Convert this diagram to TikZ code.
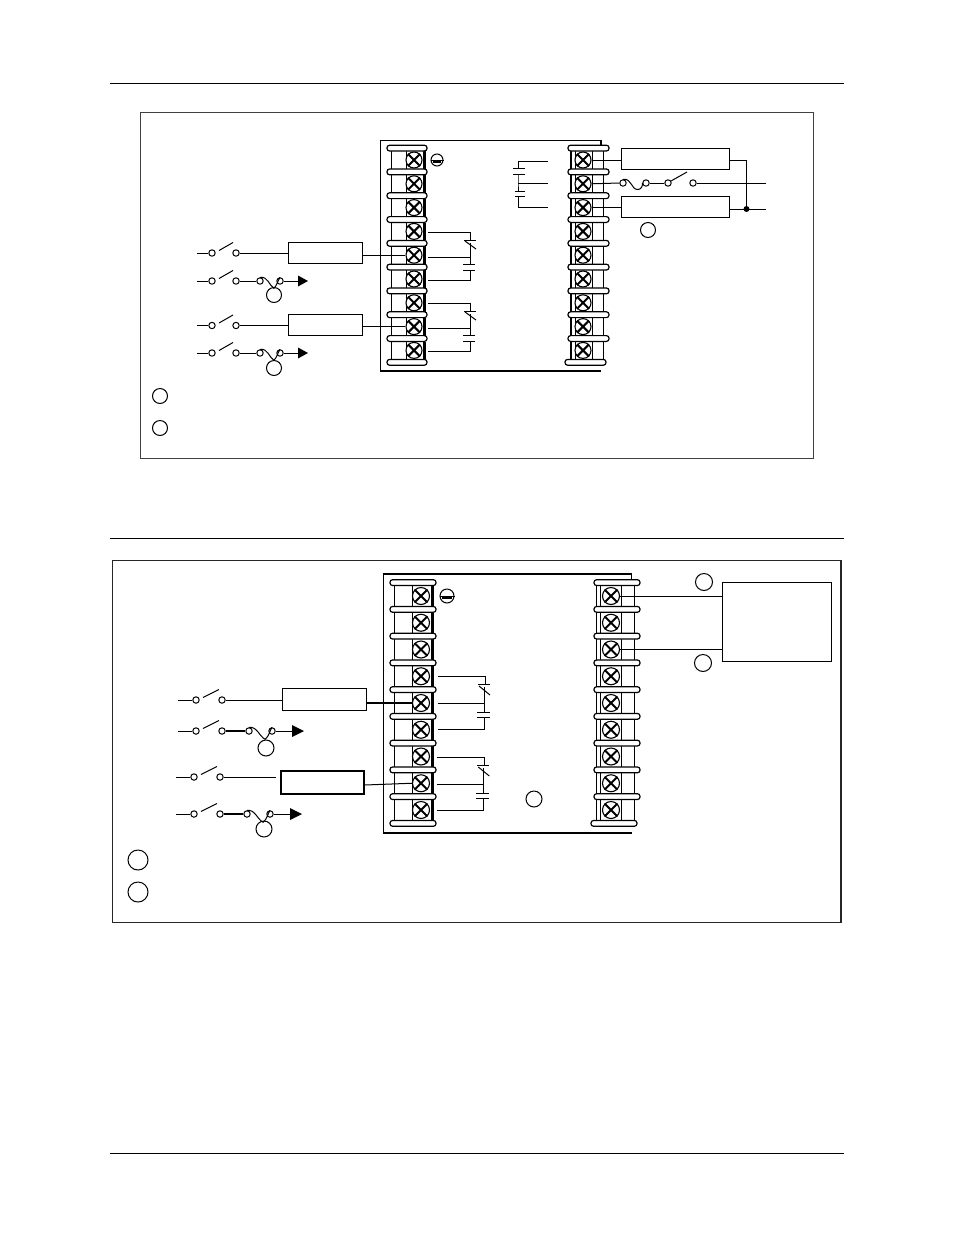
\documentclass[tikz,border=0pt]{standalone}
\usetikzlibrary{calc}
\tikzset{
  wire/.style={line width=1pt,black},
  frameline/.style={line width=1pt,black!75},
  relaybox/.style={draw,line width=1.1pt,fill=white,rectangle,inner sep=0pt,anchor=north west},
  refmark/.style={draw,circle,line width=1pt,fill=white,inner sep=0pt},
  contact/.style={draw,circle,line width=1pt,fill=white,inner sep=0pt,minimum size=6.4pt},
  screw/.style={draw,circle,line width=1.1pt,fill=white,inner sep=0pt},
  tbar/.style={draw,line width=1.2pt,fill=white,rounded corners=2.6pt},
  tcell/.style={draw,line width=0.9pt,fill=white},
  tiparrow/.style={fill=black,draw=none},
  junction/.style={fill=black,circle,inner sep=0pt,minimum size=6pt}
}
\def\lastshift{0}
% block: prefix, barL, barR, boxL, boxR, cellL, cellR, screwX, railX, y0, dy, screwsize
\newcommand{\tblock}[9]{\def\tbA{#1}\def\tbB{#2}\def\tbC{#3}\def\tbD{#4}\def\tbE{#5}\def\tbF{#6}\def\tbG{#7}\def\tbH{#8}\def\tbI{#9}\tblockcont}
\newcommand{\tblockcont}[3]{%
  \foreach \i in {1,...,9}{
    \pgfmathsetmacro{\yy}{#1+(\i-1)*#2}
    \path[tcell] (\tbD,\yy-#2/2+2) rectangle (\tbE,\yy+#2/2-2);
    \path[tcell] (\tbF,\yy-#2/2+2) rectangle (\tbG,\yy+#2/2-2);
    \draw[line width=1.1pt] (\tbI,\yy-#2/2+3) -- (\tbI,\yy+#2/2-3);
  }
  \foreach \i in {0,...,8}{
    \pgfmathsetmacro{\yy}{#1+(\i-0.5)*#2}
    \path[tbar] (\tbB,\yy-2.9) rectangle (\tbC,\yy+2.9);
  }
  \pgfmathsetmacro{\yy}{#1+8.5*#2}
  \path[tbar] (\tbB+\lastshift,\yy-2.9) rectangle (\tbC+\lastshift,\yy+2.9);
  \foreach \i in {1,...,9}{
    \pgfmathsetmacro{\yy}{#1+(\i-1)*#2}
    \node[screw,minimum size=#3] (\tbA\i) at (\tbH,\yy) {};
    \draw[line width=2pt] (\tbA\i.45) -- (\tbA\i.225) (\tbA\i.135) -- (\tbA\i.315);
  }
}
% open switch: prefix, xa, xb, y
\newcommand{\swopen}[4]{%
  \node[contact] (#1a) at (#2,#4) {};
  \node[contact] (#1b) at (#3,#4) {};
  \draw[wire] ($(#1a)+(7,-2.5)$) -- ($(#1b)+(-3,-10.5)$);
}
% fuse curve between two contact nodes, with dip #3
\newcommand{\fusecurve}[3]{%
  \draw[wire] (#1.north) .. controls ($(#1.north)+(8,-1)$) and ($(#1.north)!0.45!(#2.north)+(0,#3-3)$) .. ($(#1.north)!0.7!(#2.north)+(0,#3)$)
     .. controls ($(#2.north)+(-3,#3-3)$) and ($(#2.north)+(-2,3)$) .. (#2.north);
}
\begin{document}
\begin{tikzpicture}[x=1pt,y=-1pt]
\useasboundingbox (0,0) rectangle (954,1235);
\fill[white] (0,0) rectangle (954,1235);
% page rules
\coordinate (ra) at (110,83); \coordinate (rb) at (844,83);
\coordinate (rc) at (110,538); \coordinate (rd) at (844,538);
\coordinate (re) at (110,1153); \coordinate (rf) at (844,1153);
\draw[line width=1pt] (ra) -- (rb) (rc) -- (rd) (re) -- (rf);

%%%%%%%%%%%%%%% upper panel
\draw[frameline] (140.5,112.5) rectangle (813.5,458.5);
\draw[line width=1.1pt] (601,371) -- (380.5,371) -- (380.5,140.5) -- (601,140.5) -- (601,150);
\tblock{A}{387}{427}{391}{406}{406}{423}{414}{425}{160}{23.8}{16pt}
\def\lastshift{-3}
\tblock{B}{568}{609}{592}{603}{575}{592}{583}{571}{160}{23.8}{16pt}
\def\lastshift{0}
% earth
\node[refmark,minimum size=12pt] (gnd1) at (437,160) {};
\draw[line width=1pt] (gnd1.west) -- (gnd1.east);
\fill (gnd1.west) ++(2,1) rectangle ++(8,2);

% top right capacitors
\coordinate (c1) at (548,161); \coordinate (c2) at (548,183); \coordinate (c3) at (548,207);
\coordinate (cx1) at (518,161); \coordinate (cx2) at (518,183); \coordinate (cx3) at (518,207);
\draw[wire] (c1) -- (cx1) -- (518,168);
\draw[wire] (513,168.5) -- (525,168.5) (513,174) -- (525,174);
\draw[wire] (518,174) -- (cx2) -- (518,191);
\draw[wire] (c2) -- (cx2);
\draw[wire] (515,191) -- (525,191) (515,196.5) -- (525,196.5);
\draw[wire] (518,196.5) -- (cx3) -- (c3);

% left contact sets
\foreach \dy in {0,71}{
  \begin{scope}[yshift=-\dy pt]
  \draw[wire] (428,232) -- (470.5,232) -- (470.5,240);
  \draw[wire] (464,240) -- (476,240);
  \draw[wire] (465,241) -- (476,249);
  \draw[wire] (470.5,243) -- (470.5,264);
  \draw[wire] (428,257) -- (470.5,257);
  \draw[wire] (463,264.5) -- (475,264.5) (463,270) -- (475,270);
  \draw[wire] (470,270) -- (470,280) -- (428,280);
  \end{scope}
}

% right side of upper panel
\node[relaybox,minimum width=108pt,minimum height=21pt] (ub1) at (621,148) {};
\node[relaybox,minimum width=108pt,minimum height=21pt] (ub2) at (621,196) {};
\draw[wire] (B1.east) -- (ub1.west|-B1);
\draw[wire] (B3.east) -- (ub2.west|-B3);
\node[contact] (uf1) at (623,183) {};
\node[contact] (uf2) at (646,183) {};
\node[contact] (us1) at (668,183) {};
\node[contact] (us2) at (693,183) {};
\coordinate (uout1) at (766,183);
\coordinate (uout2) at (766,209);
\node[junction] (uj) at (746.5,209) {};
\draw[wire] (B2.east) -- (uf1.west);
\draw[wire] (uf1.north) .. controls (632,178) and (631,190) .. (638,189.5) .. controls (641,189.5) and (643,186) .. (uf2.west);
\draw[wire] (uf2.east) -- (us1.west);
\draw[wire] (671,181) -- (687,172);
\draw[wire] (us2.east) -- (uout1);
\draw[wire] (ub1.east|-0,160) -- (746.5,160) -- (uj);
\draw[wire] (ub2.east|-uj) -- (uout2);
\node[refmark,minimum size=15pt] (um1) at (648,230) {};

% left switches upper panel
\node[relaybox,minimum width=74pt,minimum height=21pt] (ul1) at (288,242) {};
\node[relaybox,minimum width=74pt,minimum height=21pt] (ul2) at (288,314) {};
\coordinate (us0a) at (197,253); \coordinate (us0b) at (197,281);
\coordinate (us0c) at (197,325.5); \coordinate (us0d) at (197,353);
\swopen{ua}{212}{236}{253}
\swopen{ub}{212}{236}{281}
\swopen{uc}{212}{236}{325.5}
\swopen{ud}{212}{236}{353}
\draw[wire] (us0a) -- (uaa.west) (uab.east) -- (ul1.west|-uab);
\draw[wire] (us0b) -- (uba.west);
\draw[wire] (us0c) -- (uca.west) (ucb.east) -- (ul2.west|-ucb);
\draw[wire] (us0d) -- (uda.west);
\draw[wire] (ul1.east|-A5) -- (A5.west);
\draw[wire] (ul2.east|-A8) -- (A8.west);
\foreach \n/\yy/\cy in {p/281/295,q/353/368}{
  \node[refmark,minimum size=15pt] (\n m) at (274,\cy) {};
  \node[contact] (\n 1) at (260,\yy) {};
  \node[contact] (\n 2) at (280,\yy) {};
  \coordinate (\n t) at (298,\yy);
  \fill[tiparrow] (298,\yy-5.5) -- (308,\yy) -- (298,\yy+5.5) -- cycle;
  \draw[wire] (\n 2.east) -- (\n t);
  \fusecurve{\n 1}{\n 2}{11}
}
\draw[wire] (ubb.east) -- (p1.west);
\draw[wire] (udb.east) -- (q1.west);
\node[refmark,minimum size=15pt] (ul) at (160,396) {};
\node[refmark,minimum size=15pt] (um) at (160,428) {};

%%%%%%%%%%%%%%% lower panel
\draw[line width=1.2pt,black!85] (112.5,560.5) rectangle (841,922.5);
\draw[line width=1.2pt] (631.5,833) -- (383.5,833) -- (383.5,574) -- (631.5,574) -- (631.5,585);
\tblock{C}{390}{436}{394}{412}{412}{431}{421}{433}{596}{26.75}{17pt}
\def\lastshift{-3}
\tblock{D}{594}{640}{621}{634}{600}{621}{611}{596.5}{596}{26.75}{17pt}
\def\lastshift{0}
\node[refmark,minimum size=14pt] (gnd2) at (447,596) {};
\draw[line width=1pt] (gnd2.west) -- (gnd2.east);
\fill (gnd2.west) ++(2,1) rectangle ++(10,2);

\foreach \dy/\sx in {0/0,81/-0.7}{
  \begin{scope}[yshift=-\dy pt,xshift=\sx pt]
  \draw[wire] (438,676) -- (485,676) -- (485,684);
  \draw[wire] (478,684) -- (490,684);
  \draw[wire] (479,686) -- (490,695);
  \draw[wire] (484.5,687) -- (484.5,712);
  \draw[wire] (438,703) -- (484.5,703);
  \draw[wire] (477,712) -- (490,712) (477,717.5) -- (490,717.5);
  \draw[wire] (484.5,717.5) -- (484.5,729) -- (438,729);
  \end{scope}
}

% right box lower
\node[relaybox,minimum width=109pt,minimum height=79pt] (lb) at (722,582) {};
\draw[wire] (D1.east) -- (lb.west|-D1);
\draw[wire] (D3.east) -- (lb.west|-D3);
\node[refmark,minimum size=17pt] (lm1) at (704,582) {};
\node[refmark,minimum size=17pt] (lm2) at (703,663) {};
\node[refmark,minimum size=16pt] (lm3) at (534,799) {};

% left switches lower
\node[relaybox,minimum width=84pt,minimum height=22pt] (ll1) at (282,688) {};
\node[relaybox,minimum width=83pt,minimum height=23pt,line width=1.6pt] (ll2) at (280,770) {};
\coordinate (ls0a) at (178,700); \coordinate (ls0b) at (178,731);
\coordinate (ls0c) at (176,777); \coordinate (ls0d) at (176,814);
\coordinate (ls0e) at (276,777);
\swopen{la}{196}{222}{700}
\swopen{lb2}{196}{222}{731}
\swopen{lc}{194}{220}{777}
\swopen{ld}{194}{220}{814}
\draw[wire] (ls0a) -- (laa.west) (lab.east) -- (ll1.west|-lab);
\draw[wire] (ls0b) -- (lb2a.west);
\draw[wire] (ls0c) -- (lca.west) (lcb.east) -- (ls0e);
\draw[wire] (ls0d) -- (lda.west);
\draw[line width=1.4pt] (ll1.east|-0,703) -- (C5.west);
\draw[wire] (ll2.east|-0,785) -- (C8.west);
\foreach \n/\xx/\yy/\cy in {r/0/731/748,s/-2/814/829}{
  \node[refmark,minimum size=16pt] (\n m) at (266+\xx,\cy) {};
  \node[contact] (\n 1) at (249+\xx,\yy) {};
  \node[contact] (\n 2) at (272+\xx,\yy) {};
  \coordinate (\n t) at (292+\xx,\yy);
  \fill[tiparrow] (292+\xx,\yy-6) -- (304+\xx,\yy) -- (292+\xx,\yy+6) -- cycle;
  \draw[wire] (\n 2.east) -- (\n t);
  \fusecurve{\n 1}{\n 2}{12}
}
\draw[line width=1.3pt] (lb2b.east) -- (r1.west);
\draw[line width=1.3pt] (ldb.east) -- (s1.west);
\node[refmark,minimum size=20pt] (ln1) at (138,860) {};
\node[refmark,minimum size=20pt] (ln2) at (138,892) {};
\end{tikzpicture}
\end{document}
